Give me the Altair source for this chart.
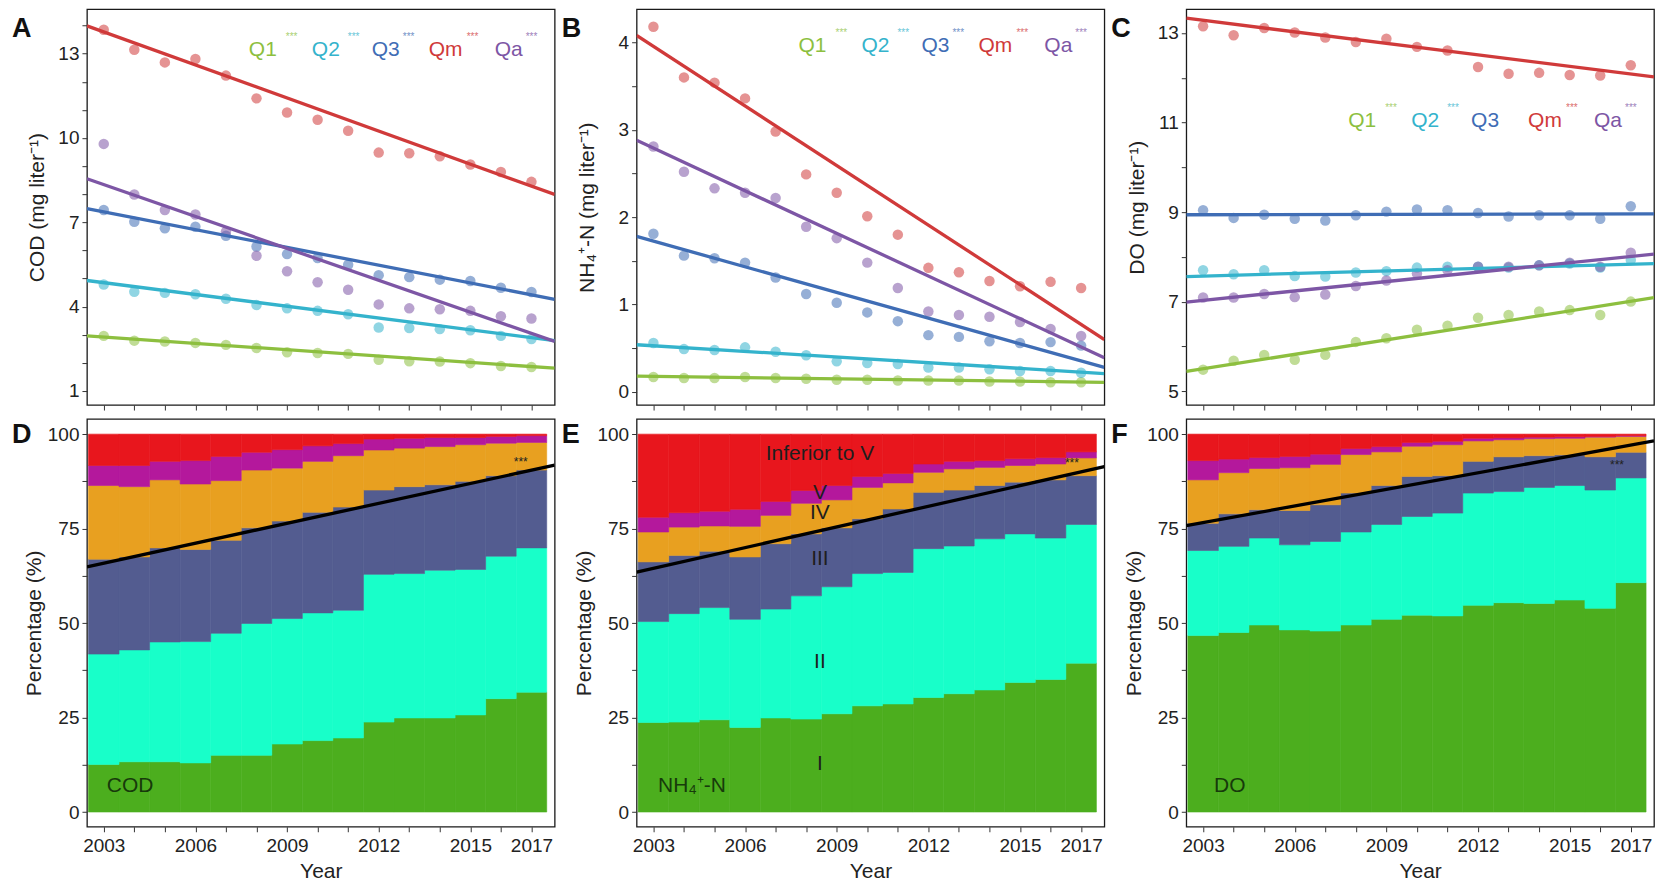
import altair as alt
import pandas as pd

FONT = "Liberation Sans"

years = list(range(2003, 2018))
SERIES = ["Q1", "Q2", "Q3", "Qm", "Qa"]
SERIES_COLORS = ["#8dbf3f", "#34b3cc", "#3f6db5", "#d03a3a", "#7d56a5"]
CATS = ["I", "II", "III", "IV", "V", "Inferior to V"]
CAT_COLORS = ["#4cae1e", "#18ffc9", "#535c90", "#e8a020", "#b4189c", "#e8161d"]

# ---------------- Panel A: COD (mg/L) ----------------
cod_q1 = [2.96, 2.79, 2.76, 2.71, 2.64, 2.53, 2.38, 2.35, 2.32, 2.11, 2.06, 2.05, 1.99, 1.89, 1.85]
cod_q2 = [4.79, 4.53, 4.49, 4.44, 4.28, 4.06, 3.94, 3.85, 3.73, 3.26, 3.24, 3.20, 3.16, 2.96, 2.85]
cod_q3 = [7.44, 7.02, 6.79, 6.84, 6.52, 6.14, 5.87, 5.73, 5.49, 5.12, 5.05, 4.96, 4.91, 4.67, 4.52]
cod_qm = [13.85, 13.14, 12.69, 12.81, 12.22, 11.41, 10.91, 10.65, 10.26, 9.48, 9.46, 9.35, 9.06, 8.79, 8.44]
cod_qa = [9.79, 7.99, 7.44, 7.28, 6.67, 5.81, 5.26, 4.87, 4.60, 4.08, 3.94, 3.91, 3.85, 3.66, 3.58]
cod_fit_start = [2.96, 4.93, 7.49, 13.99, 8.55]   # Q1,Q2,Q3,Qm,Qa at left edge
cod_fit_end = [1.81, 2.79, 4.26, 7.99, 2.76]      # at right edge
cod_stars = ["***", "***", "***", "***", "***"]

# ---------------- Panel B: NH4+-N (mg/L) ----------------
nh_q1 = [0.17, 0.16, 0.16, 0.17, 0.16, 0.15, 0.14, 0.14, 0.13, 0.13, 0.13, 0.12, 0.12, 0.11, 0.11]
nh_q2 = [0.56, 0.49, 0.48, 0.51, 0.46, 0.42, 0.35, 0.33, 0.32, 0.28, 0.28, 0.26, 0.24, 0.24, 0.22]
nh_q3 = [1.81, 1.56, 1.53, 1.48, 1.31, 1.12, 1.02, 0.91, 0.81, 0.65, 0.63, 0.58, 0.56, 0.57, 0.53]
nh_qm = [4.18, 3.60, 3.54, 3.36, 2.98, 2.49, 2.28, 2.01, 1.80, 1.42, 1.37, 1.27, 1.21, 1.26, 1.19]
nh_qa = [2.81, 2.52, 2.33, 2.28, 2.22, 1.89, 1.76, 1.48, 1.19, 0.92, 0.88, 0.86, 0.80, 0.72, 0.64]
nh_fit_start = [0.18, 0.54, 1.78, 4.08, 2.88]
nh_fit_end = [0.11, 0.21, 0.28, 0.60, 0.39]
nh_stars = ["***", "***", "***", "***", "***"]

# ---------------- Panel C: DO (mg/L) ----------------
do_q1 = [5.48, 5.68, 5.81, 5.70, 5.81, 6.10, 6.18, 6.37, 6.46, 6.64, 6.70, 6.78, 6.81, 6.70, 7.00]
do_q2 = [7.70, 7.61, 7.70, 7.57, 7.56, 7.65, 7.68, 7.76, 7.78, 7.78, 7.76, 7.81, 7.85, 7.76, 7.93]
do_q3 = [9.04, 8.87, 8.94, 8.85, 8.81, 8.93, 9.01, 9.06, 9.04, 8.98, 8.90, 8.93, 8.93, 8.85, 9.13]
do_qm = [13.15, 12.95, 13.11, 13.01, 12.90, 12.80, 12.87, 12.69, 12.61, 12.24, 12.09, 12.11, 12.06, 12.05, 12.28]
do_qa = [7.09, 7.09, 7.17, 7.10, 7.16, 7.35, 7.47, 7.63, 7.70, 7.78, 7.78, 7.81, 7.87, 7.78, 8.09]
do_fit_start = [5.44, 7.56, 8.94, 13.33, 6.99]
do_fit_end = [7.09, 7.85, 8.96, 12.02, 8.06]
do_stars = ["***", "***", "", "***", "***"]

# ---------------- Panels D-F: cumulative percentage (upper edge of I, II, III, IV, V) ----------------
cod_cum_I = [12.6, 13.3, 13.3, 13.0, 15.0, 15.0, 18.0, 18.9, 19.6, 23.8, 24.9, 24.9, 25.7, 30.0, 31.7]
cod_cum_II = [41.8, 42.9, 45.0, 45.1, 47.3, 49.9, 51.2, 52.7, 53.4, 62.9, 63.1, 64.0, 64.2, 67.7, 69.9]
cod_cum_III = [66.9, 67.5, 69.9, 69.5, 71.9, 75.2, 77.0, 79.3, 80.7, 85.2, 86.1, 86.6, 87.5, 89.0, 90.5]
cod_cum_IV = [86.4, 86.1, 87.9, 86.8, 87.7, 90.5, 91.0, 92.8, 94.3, 95.8, 96.3, 96.7, 97.2, 97.6, 97.8]
cod_cum_V = [91.7, 91.7, 92.8, 93.0, 94.1, 95.2, 95.9, 96.9, 97.5, 98.7, 98.9, 99.1, 99.1, 99.4, 99.6]
cod_trend = [64.9, 91.8]

nh_cum_I = [23.7, 23.8, 24.4, 22.4, 24.9, 24.6, 26.0, 28.1, 28.6, 30.3, 31.3, 32.3, 34.3, 35.1, 39.4]
nh_cum_II = [50.4, 52.5, 54.1, 51.0, 53.7, 57.2, 59.6, 63.1, 63.4, 69.7, 70.4, 72.3, 73.6, 72.5, 76.1]
nh_cum_III = [66.2, 67.9, 69.0, 67.5, 71.0, 73.6, 75.2, 77.6, 80.2, 84.6, 85.2, 86.4, 87.3, 87.9, 89.0]
nh_cum_IV = [74.1, 75.4, 75.7, 75.6, 78.5, 81.7, 82.6, 85.9, 87.1, 89.9, 90.8, 91.2, 91.7, 92.1, 93.7]
nh_cum_V = [78.0, 79.2, 79.6, 80.1, 82.2, 85.1, 86.4, 88.8, 89.6, 92.1, 92.8, 93.0, 93.5, 93.8, 95.3]
nh_trend = [63.5, 91.4]

do_cum_I = [46.7, 47.5, 49.5, 48.2, 47.9, 49.5, 51.0, 52.1, 51.9, 54.7, 55.4, 55.2, 56.1, 53.9, 60.7]
do_cum_II = [69.2, 70.3, 72.5, 70.7, 71.6, 74.1, 76.1, 78.2, 79.1, 84.4, 84.8, 85.9, 86.4, 85.2, 88.4]
do_cum_III = [76.4, 78.9, 80.0, 79.8, 81.3, 84.4, 86.4, 88.8, 89.0, 92.8, 94.0, 94.3, 94.5, 94.0, 95.2]
do_cum_IV = [87.9, 89.8, 90.9, 91.1, 92.0, 94.6, 95.3, 96.8, 97.2, 98.2, 98.5, 98.8, 98.9, 99.2, 99.4]
do_cum_V = [93.0, 93.4, 93.8, 94.1, 94.7, 96.2, 96.7, 97.8, 98.1, 98.9, 99.0, 99.2, 99.3, 99.4, 99.6]
do_trend = [75.8, 98.2]

# class labels drawn in panel E
class_labels = ["Inferior to V", "V", "IV", "III", "II", "I"]
class_label_y = [94.7, 84.4, 79.0, 67.0, 39.8, 12.6]
class_label_x = 2008.45

# axis tick / label values
LABEL_YEARS = [2003, 2006, 2009, 2012, 2015, 2017]
cod_ticks = list(range(1, 15))
cod_labels = [1, 4, 7, 10, 13]
nh_ticks = [0, 0.5, 1, 1.5, 2, 2.5, 3, 3.5, 4]
nh_labels = [0, 1, 2, 3, 4]
do_ticks = list(range(5, 14))
do_labels = [5, 7, 9, 11, 13]
pct_ticks = [0, 12.5, 25, 37.5, 50, 62.5, 75, 87.5, 100]
pct_labels = [0, 25, 50, 75, 100]

# ---------------- layout constants ----------------
X_LO, X_HI = 2002.45, 2017.76
W = 468
H_TOP = 396
H_BOT = 408
LEG_LABEL_PX = [162, 225, 285, 342, 408]
LEG_STAR_PX = [199, 261, 316, 380, 439]
TICK = 5


def px_to_year(px):
    return X_LO + px / W * (X_HI - X_LO)


xscale = alt.Scale(domain=[X_LO, X_HI], nice=False, zero=False)
series_color = alt.Color("series:N", scale=alt.Scale(domain=SERIES, range=SERIES_COLORS), legend=None)


def tick_axis(vals, orient):
    return alt.Axis(values=vals, labels=False, title=None, tickSize=TICK, orient=orient, domain=False, grid=False)


def label_axis(vals, orient, title, **kw):
    return alt.Axis(values=vals, ticks=False, tickSize=0, orient=orient, title=title, domain=False,
                    grid=False, labelOverlap=False, format="d", **kw)


def letter_layer(letter, ypx):
    return alt.Chart(pd.DataFrame({"lab": [letter]})).mark_text(
        align="left", baseline="alphabetic", fontSize=27, fontWeight="bold", font=FONT, color="#111"
    ).encode(text="lab:N", x=alt.value(-75), y=alt.value(ypx))


def top_panel(letter, series_vals, fit_start, fit_end, stars, ytitle, ydomain, yticks, ylabels, leg_y):
    pts = pd.DataFrame(
        [{"year": yr, "series": s, "value": v} for s, vals in zip(SERIES, series_vals) for yr, v in zip(years, vals)]
    )
    fits = pd.DataFrame(
        [{"x": X_LO, "series": s, "value": a} for s, a in zip(SERIES, fit_start)]
        + [{"x": X_HI, "series": s, "value": b} for s, b in zip(SERIES, fit_end)]
    )
    leg = pd.DataFrame({
        "series": SERIES,
        "star": stars,
        "lx": [px_to_year(p) for p in LEG_LABEL_PX],
        "sx": [px_to_year(p) for p in LEG_STAR_PX],
    })
    yscale = alt.Scale(domain=ydomain, nice=False, zero=False)
    points = alt.Chart(pts).mark_circle(size=110, opacity=0.55).encode(
        x=alt.X("year:Q", scale=xscale, axis=tick_axis(years, "bottom")),
        y=alt.Y("value:Q", scale=yscale, axis=tick_axis(yticks, "left")),
        color=series_color,
    )
    lines = alt.Chart(fits).mark_line(strokeWidth=3.3, clip=True).encode(
        x=alt.X("x:Q", axis=None),
        y=alt.Y("value:Q", axis=label_axis(ylabels, "left", ytitle, labelPadding=TICK + 3,
                                           titleX=-49, titleBaseline="middle")),
        color=series_color,
    )
    labels = alt.Chart(leg).mark_text(align="left", baseline="middle", fontSize=21, font=FONT).encode(
        x=alt.X("lx:Q", axis=None), y=alt.value(leg_y), text="series:N", color=series_color
    )
    star_marks = alt.Chart(leg).mark_text(align="left", baseline="middle", fontSize=10, font=FONT, opacity=0.75).encode(
        x=alt.X("sx:Q", axis=None), y=alt.value(leg_y - 13), text="star:N", color=series_color
    )
    return alt.layer(points, lines, labels, star_marks, letter_layer(letter, 28)).resolve_axis(
        x="independent", y="independent"
    ).properties(width=W, height=H_TOP)


def bottom_panel(letter, cums, trend, name, name_x, star_pos, with_classes):
    rows = []
    for k, cat in enumerate(CATS):
        lower = [0.0] * len(years) if k == 0 else cums[k - 1]
        upper = [100.0] * len(years) if k == len(CATS) - 1 else cums[k]
        for yr, lo, hi in zip(years, lower, upper):
            rows.append({"year": yr, "cat": cat, "lo": lo, "hi": hi})
    df = pd.DataFrame(rows)
    yscale = alt.Scale(domain=[-3.9, 104], nice=False, zero=False)
    cat_scale = alt.Scale(domain=CATS, range=CAT_COLORS)
    rects = alt.Chart(df).transform_calculate(
        x0="datum.year - 0.5", x1="datum.year + 0.5"
    ).mark_rect(strokeWidth=0.6).encode(
        x=alt.X("x0:Q", scale=xscale, axis=tick_axis(years, "bottom")),
        x2="x1:Q",
        y=alt.Y("lo:Q", scale=yscale, axis=tick_axis(pct_ticks, "left")),
        y2="hi:Q",
        color=alt.Color("cat:N", scale=cat_scale, legend=None),
        stroke=alt.Stroke("cat:N", scale=cat_scale, legend=None),
    )
    tr = pd.DataFrame({"x": [X_LO, X_HI], "v": trend})
    line = alt.Chart(tr).mark_line(color="black", strokeWidth=3.3, clip=True).encode(
        x=alt.X("x:Q", axis=label_axis(LABEL_YEARS, "bottom", "Year", labelPadding=TICK + 5, titlePadding=5)),
        y=alt.Y("v:Q", axis=label_axis(pct_labels, "left", "Percentage (%)", labelPadding=TICK + 3,
                                       titleX=-52, titleBaseline="middle")),
    )
    sig = alt.Chart(pd.DataFrame({"x": [star_pos[0]], "v": [star_pos[1]], "t": ["***"]})).mark_text(
        fontSize=12, font=FONT, color="#222", baseline="middle"
    ).encode(x=alt.X("x:Q", axis=None), y=alt.Y("v:Q", axis=None), text="t:N")
    nm = alt.Chart(pd.DataFrame({"x": [name_x], "v": [6.9], "t": [name]})).mark_text(
        fontSize=21, font=FONT, color="#173a0b", align="left", baseline="middle"
    ).encode(x=alt.X("x:Q", axis=None), y=alt.Y("v:Q", axis=None), text="t:N")
    layers = [rects, line, sig, nm]
    if with_classes:
        cl = pd.DataFrame({"t": class_labels, "v": class_label_y, "x": [class_label_x] * len(class_labels)})
        layers.append(
            alt.Chart(cl).mark_text(fontSize=21, font=FONT, color="#1e1e1e", baseline="middle").encode(
                x=alt.X("x:Q", axis=None), y=alt.Y("v:Q", axis=None), text="t:N"
            )
        )
    layers.append(letter_layer(letter, 24))
    return alt.layer(*layers).resolve_axis(x="independent", y="independent").properties(width=W, height=H_BOT)


pA = top_panel("A", [cod_q1, cod_q2, cod_q3, cod_qm, cod_qa], cod_fit_start, cod_fit_end, cod_stars,
               "COD (mg liter⁻¹)", [0.5, 14.58], cod_ticks, cod_labels, 41)
pB = top_panel("B", [nh_q1, nh_q2, nh_q3, nh_qm, nh_qa], nh_fit_start, nh_fit_end, nh_stars,
               "NH₄⁺-N (mg liter⁻¹)", [-0.15, 4.38], nh_ticks, nh_labels, 37)
pC = top_panel("C", [do_q1, do_q2, do_q3, do_qm, do_qa], do_fit_start, do_fit_end, do_stars,
               "DO (mg liter⁻¹)", [4.69, 13.53], do_ticks, do_labels, 112)
pD = bottom_panel("D", [cod_cum_I, cod_cum_II, cod_cum_III, cod_cum_IV, cod_cum_V], cod_trend,
                  "COD", 2003.1, (2016.65, 92.6), False)
pE = bottom_panel("E", [nh_cum_I, nh_cum_II, nh_cum_III, nh_cum_IV, nh_cum_V], nh_trend,
                  "NH₄⁺-N", 2003.15, (2016.7, 92.3), True)
pF = bottom_panel("F", [do_cum_I, do_cum_II, do_cum_III, do_cum_IV, do_cum_V], do_trend,
                  "DO", 2003.36, (2016.55, 91.8), False)

chart = alt.concat(
    pA, pB, pC, pD, pE, pF, columns=3, spacing={"row": 6, "column": 5}
).resolve_scale(
    color="independent", stroke="independent", x="independent", y="independent"
).properties(
    padding={"left": 3, "top": 0, "right": 0, "bottom": 0}
).configure_view(
    stroke="#1a1a1a", strokeWidth=1.3
).configure_axis(
    labelFont=FONT, titleFont=FONT, labelFontSize=19, titleFontSize=21,
    labelColor="#222", titleColor="#222", tickColor="#333", tickWidth=1,
    titleFontWeight="normal",
).configure_text(font=FONT)

chart.save("out.html", embed_options={"renderer": "svg", "actions": False})
